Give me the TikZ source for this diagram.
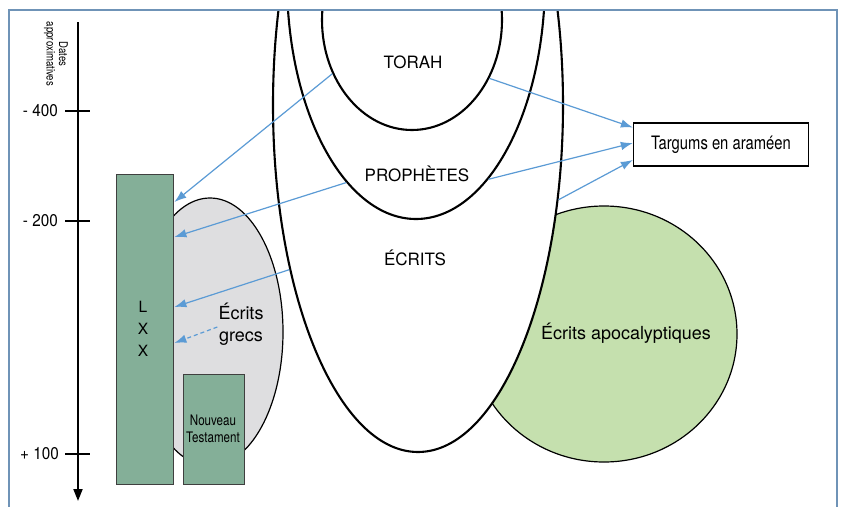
\documentclass[tikz,border=0pt]{standalone}
\usepackage{fontspec}
\setmainfont{TeX Gyre Heros}
\newfontfamily\condfont[FakeStretch=0.8]{TeX Gyre Heros}
\newfontfamily\datefont[FakeStretch=0.9]{TeX Gyre Heros}
\usetikzlibrary{shapes.geometric,arrows.meta}
\definecolor{framecol}{HTML}{6F93B7}
\definecolor{arrowcol}{HTML}{5B9BD5}
\definecolor{boxgreen}{HTML}{84AF98}
\definecolor{boxedge}{HTML}{3F3F3F}
\definecolor{greyfill}{HTML}{DEDEE0}
\definecolor{apogreen}{HTML}{C5E0AE}
\begin{document}
\begin{tikzpicture}[x=1pt,y=-1pt,
  bigell/.style={ellipse, draw=black, line width=2.1pt, inner sep=0pt},
  softell/.style={ellipse, draw=black, line width=1.2pt, inner sep=0pt},
  greenbox/.style={draw=boxedge, fill=boxgreen, line width=1.4pt, inner sep=0pt, anchor=north west},
  link/.style={draw=arrowcol, line width=1.2pt, -{Latex[length=12pt,width=8.5pt]}},
  capslbl/.style={font=\fontsize{17}{20}\selectfont, inner sep=1pt},
  lowlbl/.style={font=\fontsize{18}{22}\selectfont, inner sep=1pt, align=center},
  datelbl/.style={font=\datefont\fontsize{17}{20}\selectfont, anchor=east, inner sep=0pt},
  axisline/.style={line width=2pt}
]
\clip (0,0) rectangle (843,506);
\fill[white] (0,0) rectangle (843,506);

% apocalyptic writings
\node[softell, fill=apogreen, minimum width=266pt, minimum height=256pt] (apo) at (604,334) {};

% canon ellipses
\begin{scope}
  \clip (9,10) rectangle (837,506);
  \node[bigell, fill=white, minimum width=290pt, minimum height=694pt] (ecrits) at (418,105) {};
  \node[bigell, minimum width=258pt, minimum height=478pt] (proph) at (416,-20) {};
  \node[bigell, minimum width=180pt, minimum height=220pt] (torah) at (412,20) {};
\end{scope}

\node[capslbl] (torahlbl) at (413,62) {TORAH};
\node[capslbl] (prophlbl) at (417,174) {PROPHÈTES};
\node[capslbl] (ecritslbl) at (415,258) {ÉCRITS};
\node[lowlbl] (apolbl) at (626,333) {Écrits apocalyptiques};

% greek writings
\node[softell, fill=greyfill, minimum width=146pt, minimum height=268pt] (grey) at (210,332) {};
\node[lowlbl] (grecs) at (241,324) {Écrits\\grecs};

% LXX and NT
\node[greenbox, minimum width=57pt, minimum height=310pt] (lxx) at (116,174) {};
\node[font=\fontsize{15.5}{22}\selectfont, align=center] (lxxlbl) at (143,329) {L\\X\\X};
\node[greenbox, minimum width=61pt, minimum height=110pt] (nt) at (183,374) {};
\node[font=\condfont\fontsize{14.5}{16.5}\selectfont, align=center] (ntlbl) at (213,429) {Nouveau\\Testament};

% Targums
\node[draw=black, line width=1.3pt, fill=white, minimum width=175pt, minimum height=43pt, inner sep=0pt,
      font=\condfont\fontsize{18.5}{20}\selectfont] (targ) at (721,144.5) {Targums en araméen};

% arrows
\draw[link] (torah.214.8) -- ([yshift=-28pt]lxx.north east);
\draw[link] (torah.323.1) -- ([yshift=17pt]targ.west);
\draw[link] (proph.251.5) -- ([yshift=-63pt]lxx.north east);
\draw[link] (proph.290.7) -- ([yshift=1.5pt]targ.west);
\draw[link] (ecrits.232.9) -- ([yshift=-133pt]lxx.north east);
\draw[link] (ecrits.326.4) -- ([yshift=-15.5pt]targ.west);
\draw[link, dash pattern=on 4pt off 3pt] ([yshift=-3pt]grecs.west) -- ([yshift=-169pt]lxx.north east);

% time axis
\coordinate (axtop) at (78,22);
\coordinate (axbot) at (78,501);
\draw[axisline, -{Triangle[length=12pt,width=9pt]}] (axtop) -- (axbot);
\coordinate (t1l) at (65,110.5); \coordinate (t1r) at (90,110.5);
\coordinate (t2l) at (65,220.5); \coordinate (t2r) at (90,220.5);
\coordinate (t3l) at (65,454); \coordinate (t3r) at (90,454);
\draw[axisline] (t1l) -- (t1r);
\draw[axisline] (t2l) -- (t2r);
\draw[axisline] (t3l) -- (t3r);
\node[datelbl] (d1) at (58,110.5) {- 400};
\node[datelbl] (d2) at (58,220.5) {- 200};
\node[datelbl] (d3) at (59,454) {+ 100};
\node[rotate=-90, font=\condfont\fontsize{12}{12.5}\selectfont, align=center] (dates) at (56,54) {Dates\\approximatives};

% frame
\draw[framecol, line width=2pt] (9,10) rectangle (837,530);
\end{tikzpicture}
\end{document}
